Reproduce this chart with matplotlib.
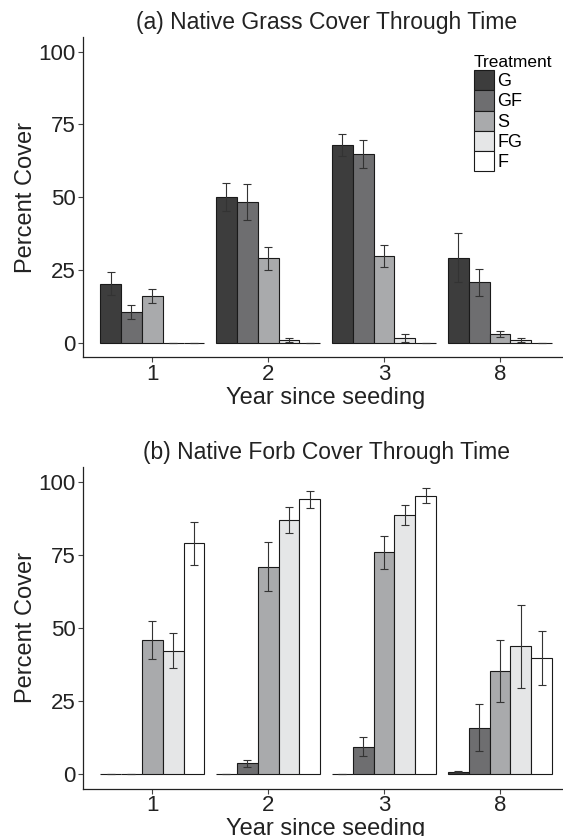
import matplotlib
matplotlib.use('Agg')
import matplotlib.pyplot as plt
from matplotlib.patches import Patch
import numpy as np

plt.rcParams['font.family'] = ['Liberation Sans', 'DejaVu Sans']

years = ['1', '2', '3', '8']
treatments = ['G', 'GF', 'S', 'FG', 'F']
colors = ['#3d3d3d', '#6e6e70', '#a9aaac', '#e5e6e7', '#ffffff']

# (a) native grass cover, mean and s.e. per treatment (rows) and year (cols)
grass_mean = [[20.3, 50.1, 67.9, 29.2],
              [10.6, 48.4, 64.7, 20.8],
              [16.1, 29.0, 29.9, 3.1],
              [0.0, 1.0, 1.6, 1.0],
              [0.0, 0.0, 0.0, 0.0]]
grass_se = [[3.9, 4.9, 3.9, 8.4],
            [2.3, 6.2, 4.8, 4.6],
            [2.3, 3.8, 3.7, 1.1],
            [0.0, 0.8, 1.4, 0.8],
            [0.0, 0.0, 0.0, 0.0]]

# (b) native forb cover
forb_mean = [[0.0, 0.0, 0.0, 0.7],
             [0.0, 3.6, 9.3, 15.8],
             [45.9, 70.9, 75.8, 35.2],
             [42.2, 86.8, 88.5, 43.6],
             [78.9, 93.9, 95.2, 39.6]]
forb_se = [[0.0, 0.0, 0.0, 0.2],
           [0.0, 1.2, 3.2, 8.0],
           [6.5, 8.3, 5.6, 10.7],
           [6.0, 4.5, 3.5, 14.2],
           [7.3, 2.9, 2.6, 9.3]]

W, H = 563, 836
fig = plt.figure(figsize=(W / 100, H / 100), dpi=100)

def panel(rect, means, ses, title):
    ax = fig.add_axes(rect)
    x = np.arange(1, len(years) + 1)
    bw = 0.18
    for j, t in enumerate(treatments):
        xs = x + (j - 2) * bw
        ax.bar(xs, means[j], width=bw, color=colors[j], edgecolor='#1a1a1a', linewidth=0.8, zorder=2)
        ax.errorbar(xs, means[j], yerr=ses[j], fmt='none', ecolor='#333333', elinewidth=0.8,
                    capsize=2.7, capthick=0.8, zorder=3)
    ax.set_xlim(0.4, 4.6)
    ax.set_ylim(-5, 105)
    ax.set_xticks(x)
    ax.set_xticklabels(years)
    ax.set_yticks([0, 25, 50, 75, 100])
    for s in ['top', 'right']:
        ax.spines[s].set_visible(False)
    for s in ['left', 'bottom']:
        ax.spines[s].set_linewidth(0.9)
        ax.spines[s].set_color('#222222')
    ax.tick_params(axis='both', direction='out', length=3.5, width=0.8, color='#444444',
                   labelsize=16, labelcolor='#222222', pad=1.5)
    ax.set_xlabel('Year since seeding', fontsize=17, color='#222222', labelpad=1)
    ax.set_ylabel('Percent Cover', fontsize=17, color='#222222', labelpad=1)
    ax.set_title(title, fontsize=16.5, color='#222222', pad=6)
    return ax

left = 82.7 / W
width = (569.5 - 82.7) / W
ax1 = panel([left, 1 - 357.5 / H, width, 320.5 / H], grass_mean, grass_se,
            '(a) Native Grass Cover Through Time')
ax2 = panel([left, 1 - 788.5 / H, width, 321.5 / H], forb_mean, forb_se,
            '(b) Native Forb Cover Through Time')

handles = [Patch(facecolor=c, edgecolor='#1a1a1a', linewidth=0.8) for c in colors]
leg = fig.legend(handles, treatments, title='Treatment', loc='upper left',
                 bbox_to_anchor=(474 / W, 1 - 55 / H), frameon=False, fontsize=13,
                 title_fontsize=12.5, handlelength=1.1, handleheight=1.35,
                 labelspacing=0.0, handletextpad=0.2, borderpad=0, borderaxespad=0,
                 alignment='left')

fig.savefig('out.png', dpi=100)
